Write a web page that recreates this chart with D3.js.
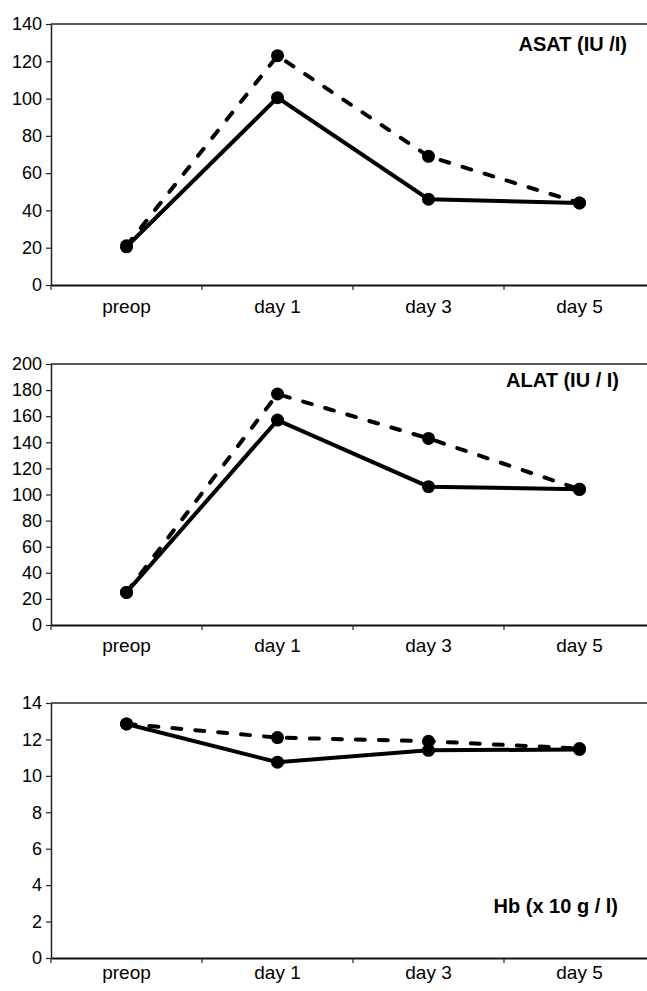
<!DOCTYPE html>
<html>
<head>
<meta charset="utf-8">
<script src="https://cdn.jsdelivr.net/npm/d3@7"></script>
<style>
  body { margin: 0; background: #fff; }
  svg { display: block; }
</style>
</head>
<body>
<div id="wrapper"></div>
<script>
// data
const categories = ["preop", "day 1", "day 3", "day 5"]

const asatSolid = [20.5, 100.5, 46, 44]
const asatDashed = [21, 123, 69, 44]
const asatTicks = [0, 20, 40, 60, 80, 100, 120, 140]

const alatSolid = [25, 157, 106, 104]
const alatDashed = [25, 177, 143, 104]
const alatTicks = [0, 20, 40, 60, 80, 100, 120, 140, 160, 180, 200]

const hbSolid = [12.85, 10.75, 11.4, 11.45]
const hbDashed = [12.85, 12.1, 11.9, 11.5]
const hbTicks = [0, 2, 4, 6, 8, 10, 12, 14]

const panels = [
    { title: "ASAT (IU /I)", solid: asatSolid, dashed: asatDashed, ticks: asatTicks,
      top: 24, bottom: 285, titleX: 627, titleY: 51, labelOffset: 28 },
    { title: "ALAT (IU / I)", solid: alatSolid, dashed: alatDashed, ticks: alatTicks,
      top: 364, bottom: 625, titleX: 619, titleY: 387, labelOffset: 27 },
    { title: "Hb (x 10 g / l)", solid: hbSolid, dashed: hbDashed, ticks: hbTicks,
      top: 703, bottom: 958, titleX: 618, titleY: 913, labelOffset: 21 },
]

const width = 647
const height = 991
const left = 51
const right = 655
const font = "'Liberation Sans', Arial, sans-serif"

const svg = d3.select("#wrapper")
    .append("svg")
    .attr("width", width)
    .attr("height", height)
    .style("font-family", font)

const xScale = d3.scaleBand()
    .domain(categories)
    .range([left, right])
    .paddingInner(0)
    .paddingOuter(0)
const xMid = d => xScale(d) + xScale.bandwidth() / 2

panels.forEach(p => {
    const yScale = d3.scaleLinear()
        .domain([p.ticks[0], p.ticks[p.ticks.length - 1]])
        .range([p.bottom, p.top])

    const g = svg.append("g")

    // top frame line
    g.append("line")
        .attr("x1", left).attr("x2", width)
        .attr("y1", p.top).attr("y2", p.top)
        .attr("stroke", "#222")
        .attr("stroke-width", 1.3)

    // y axis
    const yAxis = g.append("g")
        .attr("transform", `translate(${left},0)`)
        .call(d3.axisLeft(yScale).tickValues(p.ticks).tickSize(5).tickPadding(4).tickSizeOuter(0))
    yAxis.attr("font-size", null).attr("font-family", null)
    yAxis.select(".domain").attr("stroke", "#222").attr("stroke-width", 1.5)
    yAxis.selectAll(".tick line").attr("stroke", "#222").attr("stroke-width", 1.2)
    yAxis.selectAll("text")
        .style("font-size", "18px")
        .style("font-family", font)
        .attr("fill", "#000")

    // x axis, labels at category centres
    const xAxis = g.append("g")
        .attr("transform", `translate(0,${p.bottom})`)
        .call(d3.axisBottom(xScale).tickSize(0).tickPadding(0).tickSizeOuter(0))
    xAxis.attr("font-size", null).attr("font-family", null)
    xAxis.select(".domain").attr("stroke", "#111").attr("stroke-width", 2)
    xAxis.selectAll("text")
        .attr("y", p.labelOffset)
        .attr("dy", null)
        .style("font-size", "19px")
        .style("font-family", font)
        .attr("fill", "#000")

    // ticks at band boundaries
    g.selectAll(".bound")
        .data(categories)
        .enter()
        .append("line")
        .attr("x1", d => xScale(d))
        .attr("x2", d => xScale(d))
        .attr("y1", p.bottom)
        .attr("y2", p.bottom + 5)
        .attr("stroke", "#222")
        .attr("stroke-width", 1.2)

    const line = d3.line()
        .x((d, i) => xMid(categories[i]))
        .y(d => yScale(d))

    g.append("path")
        .datum(p.dashed)
        .attr("d", line)
        .attr("fill", "none")
        .attr("stroke", "#000")
        .attr("stroke-width", 4)
        .attr("stroke-linecap", "round")
        .attr("stroke-dasharray", "9,14")

    g.append("path")
        .datum(p.solid)
        .attr("d", line)
        .attr("fill", "none")
        .attr("stroke", "#000")
        .attr("stroke-width", 4)

    ;[p.dashed, p.solid].forEach(series => {
        g.selectAll(null)
            .data(series)
            .enter()
            .append("circle")
            .attr("cx", (d, i) => xMid(categories[i]))
            .attr("cy", d => yScale(d))
            .attr("r", 6.5)
            .attr("fill", "#000")
    })

    g.append("text")
        .attr("x", p.titleX)
        .attr("y", p.titleY)
        .attr("text-anchor", "end")
        .style("font-size", "20px")
        .style("font-weight", "bold")
        .attr("fill", "#000")
        .text(p.title)
})
</script>
</body>
</html>
